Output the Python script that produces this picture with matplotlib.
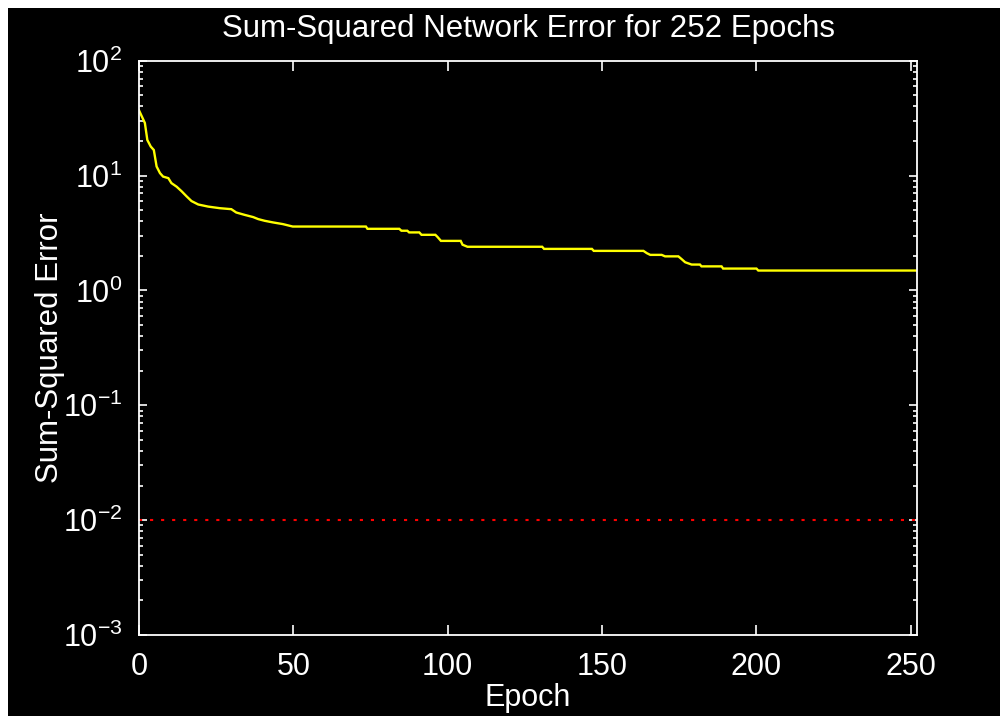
import matplotlib
matplotlib.use("Agg")
import matplotlib.pyplot as plt
from matplotlib.patches import Rectangle

plt.rcParams['font.family'] = ['Liberation Sans', 'DejaVu Sans']
plt.rcParams['mathtext.fontset'] = 'custom'
plt.rcParams['mathtext.rm'] = 'Liberation Sans'
plt.rcParams['mathtext.it'] = 'Liberation Sans'

title = "Sum-Squared Network Error for 252 Epochs"
xlabel = "Epoch"
ylabel = "Sum-Squared Error"

epochs = [0, 1.9, 2.7, 3.8, 4.8, 5.7, 6.8, 7.8, 9.5, 10.5, 12.2, 13.8, 15.4, 17,
          19.2, 22.4, 26.2, 29.9, 31.5, 34.2, 37, 38.6, 40.7, 43.4, 46.6, 49.8,
          73.5, 74, 84.3, 85, 86.9, 87.5, 90.8, 91.5, 96, 96.7, 97.8, 104.2,
          104.8, 106.4, 130.6, 131.2, 146.7, 147.3, 163.4, 164.5, 165.6, 169.3,
          170.4, 174.7, 175.8, 176.9, 179, 181.7, 182.2, 188.7, 189.2, 200,
          200.6, 252]
errors = [37, 28.7, 20.4, 17.9, 16.7, 12, 10.5, 9.8, 9.5, 8.6, 8.0, 7.3, 6.6, 6.0,
          5.6, 5.37, 5.2, 5.1, 4.77, 4.55, 4.35, 4.18, 4.04, 3.91, 3.78, 3.6,
          3.6, 3.44, 3.44, 3.31, 3.31, 3.2, 3.2, 3.05, 3.05, 2.92, 2.7, 2.7,
          2.5, 2.4, 2.4, 2.3, 2.3, 2.21, 2.21, 2.11, 2.04, 2.04,
          1.98, 1.98, 1.87, 1.76, 1.68, 1.68, 1.62, 1.62, 1.55, 1.55,
          1.49, 1.49]

goal_error = 0.01
x_range = [0, 252]

xticks = [0, 50, 100, 150, 200, 250]
xtick_labels = ["0", "50", "100", "150", "200", "250"]
yticks = [1e-3, 1e-2, 1e-1, 1e0, 1e1, 1e2]
ytick_labels = [r"$\mathregular{10^{-3}}$", r"$\mathregular{10^{-2}}$",
                r"$\mathregular{10^{-1}}$", r"$\mathregular{10^{0}}$",
                r"$\mathregular{10^{1}}$", r"$\mathregular{10^{2}}$"]

fig = plt.figure(figsize=(10, 7.16), dpi=100, facecolor='white')
fig.patches.append(Rectangle((0.008, 0), 0.992, 1 - 8/716, transform=fig.transFigure,
                             facecolor='black', edgecolor='none', zorder=-10))

ax = fig.add_axes([0.139, 0.1131, 0.778, 0.8021])
ax.set_facecolor('black')
ax.set_yscale('log')

ax.plot(epochs, errors, color='#ffff00', lw=1.7, solid_joinstyle='miter')
ax.plot(x_range, [goal_error, goal_error], color='#ff0000', lw=1.5,
        linestyle=(0, (1.5, 3.8)))

ax.set_xlim(x_range)
ax.set_ylim(1e-3, 1e2)
ax.set_xticks(xticks)
ax.set_xticklabels(xtick_labels)
ax.set_yticks(yticks)
ax.set_yticklabels(ytick_labels)

for s in ax.spines.values():
    s.set_color('white')
    s.set_linewidth(1.3)

ax.tick_params(which='both', direction='in', colors='white', top=True, right=True,
               labelsize=22, width=1.2)
ax.tick_params(axis='x', which='major', length=7, pad=12)
ax.tick_params(axis='y', which='major', length=6, pad=12)
ax.tick_params(axis='y', which='minor', length=3)

ax.set_title(title, color='white', fontsize=22.5, pad=17)
ax.set_xlabel(xlabel, color='white', fontsize=22, labelpad=1)
ax.set_ylabel(ylabel, color='white', fontsize=22.5, labelpad=-2)

fig.savefig("out.png", dpi=100, facecolor=fig.get_facecolor())
